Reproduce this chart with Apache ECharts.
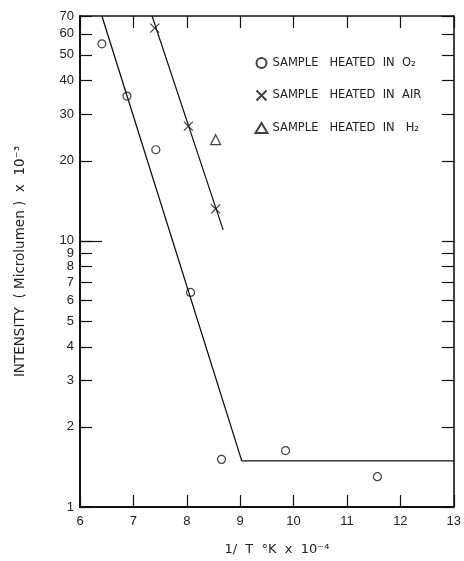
<!DOCTYPE html>
<html>
<head>
<meta charset="utf-8">
<script src="https://cdn.jsdelivr.net/npm/echarts@6/dist/echarts.min.js"></script>
<style>
  html, body { margin: 0; padding: 0; background: #fff; }
  #chart { width: 464px; height: 561px; }
</style>
</head>
<body>
<div id="chart"></div>
<script>
// 1/T (x 10^-4) vs intensity (microlumen x 10^-3)
const o2Points = [[6.41, 55], [6.88, 35], [7.42, 22], [8.07, 6.4], [8.65, 1.51], [9.85, 1.63], [11.57, 1.3]]
const airPoints = [[7.40, 63], [8.03, 27], [8.54, 13.2]]
const h2Points = [[8.54, 24]]
const o2Fit = [[6.41, 70], [9.03, 1.49], [13, 1.49]]
const airFit = [[7.35, 70], [8.68, 11]]
const yTicks = [1, 2, 3, 4, 5, 6, 7, 8, 9, 10, 20, 30, 40, 50, 60, 70]
const yLongTicks = [10]

const names = ['SAMPLE   HEATED  IN  O₂', 'SAMPLE   HEATED  IN  AIR', 'SAMPLE   HEATED  IN   H₂']
const crossPath = 'path://M0,0L10,10M10,0L0,10'
const font = 'Liberation Sans'
const wideFont = 'DejaVu Sans'

let chart = echarts.init(document.getElementById('chart'))

// a bare log axis, used only to draw extra ticks
function tickAxis (position, values, length) {
  return {
    type: 'log',
    logBase: 10,
    min: 1,
    max: 70,
    position: position,
    axisLine: { show: position === 'right', lineStyle: { color: '#111', width: 1.6 } },
    axisTick: { inside: true, length: length, customValues: values, lineStyle: { color: '#111', width: 1.2 } },
    axisLabel: { show: false },
    splitLine: { show: false }
  }
}

const option = {
  animation: false,
  backgroundColor: '#fff',
  textStyle: { fontFamily: font, color: '#222' },
  grid: { left: 80, right: 7, top: 16, bottom: 53 },
  legend: {
    data: names,
    orient: 'vertical',
    left: 249,
    top: 52,
    itemGap: 19,
    itemWidth: 12,
    itemHeight: 10,
    textStyle: { fontSize: 11.5, color: '#222', fontFamily: wideFont }
  },
  xAxis: [
    {
      type: 'value',
      min: 6,
      max: 13,
      interval: 1,
      name: '1/  T  °K  x  10⁻⁴',
      nameLocation: 'middle',
      nameGap: 36,
      nameTextStyle: { fontSize: 13, color: '#222', fontFamily: wideFont, padding: [0, 0, 0, 20] },
      axisLine: { lineStyle: { color: '#111', width: 2 } },
      axisTick: { inside: true, length: 12, lineStyle: { color: '#111', width: 1.2 } },
      axisLabel: { fontSize: 13, color: '#222', margin: 8 },
      splitLine: { show: false }
    },
    {
      type: 'value',
      position: 'top',
      min: 6,
      max: 13,
      interval: 1,
      axisLine: { lineStyle: { color: '#111', width: 1.6 } },
      axisTick: { inside: true, length: 12, lineStyle: { color: '#111', width: 1.2 } },
      axisLabel: { show: false },
      splitLine: { show: false }
    }
  ],
  yAxis: [
    {
      type: 'log',
      logBase: 10,
      min: 1,
      max: 70,
      name: 'INTENSITY  ( Microlumen )  x  10⁻³',
      nameLocation: 'middle',
      nameGap: 53,
      nameRotate: 90,
      nameTextStyle: { fontSize: 13.5, color: '#222', fontFamily: wideFont },
      axisLine: { lineStyle: { color: '#111', width: 2 } },
      axisTick: { inside: true, length: 12, customValues: yTicks, lineStyle: { color: '#111', width: 1.2 } },
      axisLabel: { fontSize: 13, color: '#222', margin: 6, customValues: yTicks },
      splitLine: { show: false }
    },
    tickAxis('right', yTicks, 12),
    tickAxis('left', yLongTicks, 22)
  ],
  series: [
    {
      type: 'line',
      data: o2Fit,
      symbol: 'none',
      lineStyle: { color: '#111', width: 1.3 },
      silent: true
    },
    {
      type: 'line',
      data: airFit,
      symbol: 'none',
      lineStyle: { color: '#111', width: 1.2 },
      silent: true
    },
    {
      name: names[0],
      type: 'scatter',
      data: o2Points,
      symbol: 'circle',
      symbolSize: 8,
      itemStyle: { color: '#fff', borderColor: '#111', borderWidth: 1.2 }
    },
    {
      name: names[1],
      type: 'scatter',
      data: airPoints,
      symbol: crossPath,
      symbolSize: 9,
      itemStyle: { color: 'none', borderColor: '#111', borderWidth: 1.2 }
    },
    {
      name: names[2],
      type: 'scatter',
      data: h2Points,
      symbol: 'triangle',
      symbolSize: 10,
      itemStyle: { color: '#fff', borderColor: '#111', borderWidth: 1.2 }
    }
  ]
}

chart.setOption(option)
</script>
</body>
</html>
